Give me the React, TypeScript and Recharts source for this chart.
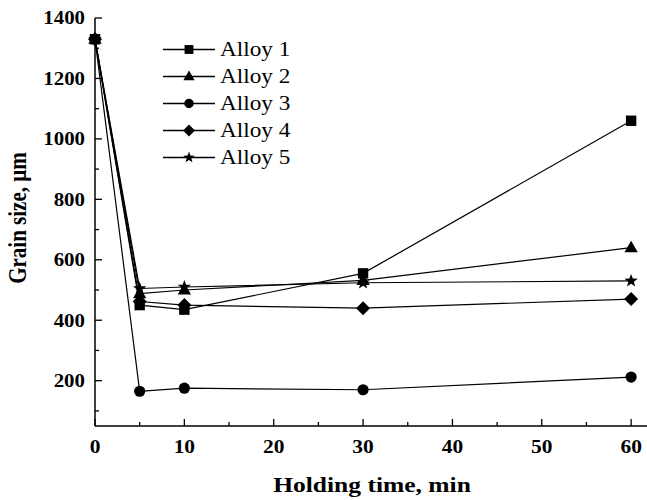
import React from 'react';
import { LineChart, Line, XAxis, YAxis, Legend, Label } from 'recharts';

const times = [0, 5, 10, 30, 60];
const alloy1 = [1330, 450, 435, 555, 1060];
const alloy2 = [1330, 488, 500, 532, 640];
const alloy3 = [1330, 165, 175, 170, 212];
const alloy4 = [1330, 462, 450, 440, 470];
const alloy5 = [1330, 505, 510, 524, 530];

const seriesNames = ['Alloy 1', 'Alloy 2', 'Alloy 3', 'Alloy 4', 'Alloy 5'];
const seriesKeys = ['a1', 'a2', 'a3', 'a4', 'a5'];
const seriesShapes = ['square', 'triangle', 'circle', 'diamond', 'star'];

const xTicks = [0, 5, 10, 15, 20, 25, 30, 35, 40, 45, 50, 55, 60];
const yTicks = [100, 200, 300, 400, 500, 600, 700, 800, 900, 1000, 1100, 1200, 1300, 1400];

const data = times.map((t, i) => ({
  t,
  a1: alloy1[i],
  a2: alloy2[i],
  a3: alloy3[i],
  a4: alloy4[i],
  a5: alloy5[i],
}));

const FONT = '"Liberation Serif", "Times New Roman", serif';
const STRETCH = 1.16;

function SText({
  x,
  y,
  children,
  anchor = 'middle',
  size,
  bold = true,
  dy,
  rotate = 0,
}: any) {
  const tf = `translate(${x},${y}) scale(${STRETCH},1)` + (rotate ? ` rotate(${rotate})` : '');
  return (
    <text
      transform={tf}
      x={0}
      y={0}
      dy={dy}
      textAnchor={anchor}
      fontFamily={FONT}
      fontWeight={bold ? 'bold' : 'normal'}
      fontSize={size}
      fill="#000"
    >
      {children}
    </text>
  );
}

function Mark({ cx, cy, shape, s = 1 }: { cx: number; cy: number; shape: string; s?: number }) {
  if (cx == null || cy == null) return null;
  if (shape === 'square') {
    const h = 5.2 * s;
    return <rect x={cx - h} y={cy - h} width={2 * h} height={2 * h} fill="#000" />;
  }
  if (shape === 'triangle') {
    const r = 7 * s;
    return (
      <polygon
        points={`${cx},${cy - r} ${cx + r * 0.95},${cy + r * 0.65} ${cx - r * 0.95},${cy + r * 0.65}`}
        fill="#000"
      />
    );
  }
  if (shape === 'circle') {
    return <circle cx={cx} cy={cy} r={5.6 * s} fill="#000" />;
  }
  if (shape === 'diamond') {
    const r = 7 * s;
    return <polygon points={`${cx},${cy - r} ${cx + r},${cy} ${cx},${cy + r} ${cx - r},${cy}`} fill="#000" />;
  }
  const ro = 7 * s;
  const ri = 2.9 * s;
  const pts: string[] = [];
  for (let k = 0; k < 10; k++) {
    const rr = k % 2 === 0 ? ro : ri;
    const a = -Math.PI / 2 + (k * Math.PI) / 5;
    pts.push(`${cx + rr * Math.cos(a)},${cy + rr * Math.sin(a)}`);
  }
  return <polygon points={pts.join(' ')} fill="#000" />;
}

function XTick(props: any) {
  const { x, y, payload } = props;
  const major = payload.value % 10 === 0;
  return (
    <g>
      <line x1={x} x2={x} y1={y} y2={y - (major ? 7 : 4)} stroke="#000" strokeWidth={1.3} />
      {major && (
        <SText x={x} y={y + 27} size={18.5}>
          {payload.value}
        </SText>
      )}
    </g>
  );
}

function YTick(props: any) {
  const { x, y, payload } = props;
  const major = payload.value % 200 === 0;
  return (
    <g>
      <line x1={x} x2={x + (major ? 7 : 4)} y1={y} y2={y} stroke="#000" strokeWidth={1.3} />
      {major && (
        <SText x={x - 10} y={y} dy="0.35em" anchor="end" size={18}>
          {payload.value}
        </SText>
      )}
    </g>
  );
}

function LegendBox() {
  return (
    <div style={{ fontFamily: FONT, fontSize: 20, color: '#000' }}>
      {seriesNames.map((n, i) => (
        <div key={n} style={{ display: 'flex', alignItems: 'center', height: 27 }}>
          <svg width={52} height={27} style={{ display: 'block' }}>
            <line x1={0} x2={52} y1={13.5} y2={13.5} stroke="#000" strokeWidth={1.3} />
            <Mark cx={26} cy={13.5} shape={seriesShapes[i]} s={0.85} />
          </svg>
          <span
            style={{
              marginLeft: 5,
              lineHeight: '27px',
              display: 'inline-block',
              transform: `scaleX(${STRETCH})`,
              transformOrigin: 'left center',
              whiteSpace: 'nowrap',
            }}
          >
            {n}
          </span>
        </div>
      ))}
    </div>
  );
}

export default function App() {
  return (
    <div style={{ position: 'absolute', left: 0, top: 0, width: 647, height: 500, overflow: 'hidden', background: '#fff' }}>
      <LineChart width={655} height={500} data={data} margin={{ top: 18, right: 6, bottom: 0, left: 0 }}>
        <XAxis
          dataKey="t"
          type="number"
          domain={[0, 62]}
          ticks={xTicks}
          interval={0}
          tickSize={0}
          tickMargin={0}
          tick={<XTick />}
          axisLine={{ stroke: '#000', strokeWidth: 1.5 }}
          tickLine={false}
          height={74}
        >
          <Label
            content={(p: any) => {
              const vb = p.viewBox;
              return (
                <SText x={vb.x + vb.width / 2} y={vb.y + 66} size={22}>
                  Holding time, min
                </SText>
              );
            }}
          />
        </XAxis>
        <XAxis
          xAxisId="top"
          orientation="top"
          dataKey="t"
          type="number"
          domain={[0, 62]}
          tick={false}
          tickLine={false}
          height={0}
          axisLine={{ stroke: '#000', strokeWidth: 1.5 }}
        />
        <YAxis
          type="number"
          domain={[50, 1400]}
          ticks={yTicks}
          interval={0}
          tickSize={0}
          tickMargin={0}
          tick={<YTick />}
          axisLine={{ stroke: '#000', strokeWidth: 1.5 }}
          tickLine={false}
          width={95}
        >
          <Label
            content={(p: any) => {
              const vb = p.viewBox;
              const cx = 17.5;
              const cy = vb.y + vb.height / 2 - 4;
              return (
                <SText x={cx} y={cy} dy="0.35em" size={21} rotate={-90}>
                  Grain size, µm
                </SText>
              );
            }}
          />
        </YAxis>
        <Legend
          layout="vertical"
          align="center"
          verticalAlign="middle"
          content={() => <LegendBox />}
          wrapperStyle={{ left: 163, top: 36, width: 'auto' }}
        />
        {seriesKeys.map((k, i) => (
          <Line
            key={k}
            dataKey={k}
            name={seriesNames[i]}
            stroke="#000"
            strokeWidth={1.2}
            isAnimationActive={false}
            dot={(p: any) => <Mark key={`${k}-${p.index}`} cx={p.cx} cy={p.cy} shape={seriesShapes[i]} />}
            activeDot={false}
          />
        ))}
      </LineChart>
    </div>
  );
}
